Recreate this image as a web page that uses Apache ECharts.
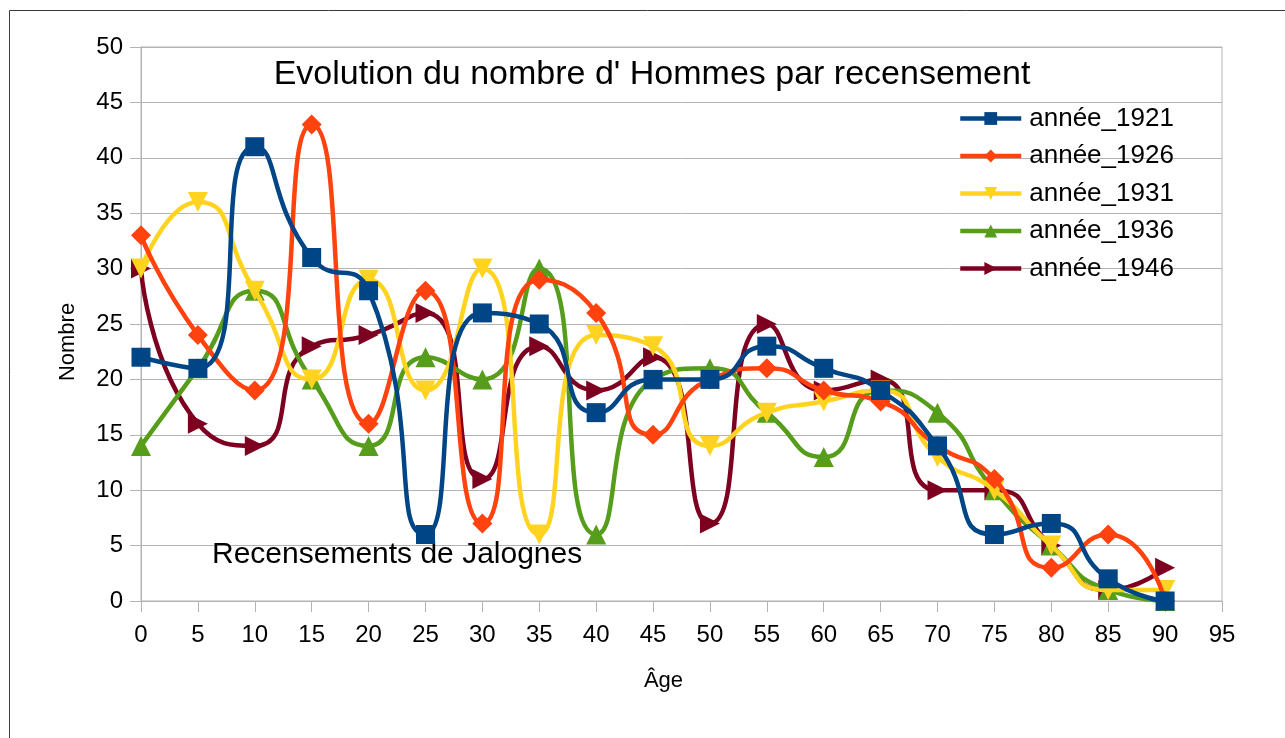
<!DOCTYPE html>
<html>
<head>
<meta charset="utf-8">
<script src="https://cdn.jsdelivr.net/npm/echarts@6/dist/echarts.min.js"></script>
<style>
html, body { margin: 0; padding: 0; background: #fff; }
#main { width: 1285px; height: 738px; }
</style>
</head>
<body>
<div id="main"></div>
<script>
// données
var ages = [0, 5, 10, 15, 20, 25, 30, 35, 40, 45, 50, 55, 60, 65, 70, 75, 80, 85, 90];
var annee1921 = [22, 21, 41, 31, 28, 6, 26, 25, 17, 20, 20, 23, 21, 19, 14, 6, 7, 2, 0];
var annee1926 = [33, 24, 19, 43, 16, 28, 7, 29, 26, 15, 20, 21, 19, 18, 14, 11, 3, 6, 0];
var annee1931 = [30, 36, 28, 20, 29, 19, 30, 6, 24, 23, 14, 17, 18, 19, 13, 10, 5, 1, 1];
var annee1936 = [14, 21, 28, 20, 14, 22, 20, 30, 6, 20, 21, 17, 13, 19, 17, 10, 5, 1, 0];
var annee1946 = [30, 16, 14, 23, 24, 26, 11, 23, 19, 22, 7, 25, 19, 20, 10, 10, 5, 1, 3];
var noms = ['année_1921', 'année_1926', 'année_1931', 'année_1936', 'année_1946'];
var couleurs = ['#004586', '#ff420e', '#ffd320', '#579d1c', '#7e0021'];
var symboles = ['rect', 'diamond', 'triangle', 'triangle', 'triangle'];
var rotations = [0, 0, 180, 0, -90];
var tailles = [19, 20, 20, 20, 20];
var valeurs = [annee1921, annee1926, annee1931, annee1936, annee1946];

var myChart = echarts.init(document.getElementById('main'));

var series = [];
for (var k = 0; k < noms.length; k++) {
    var pts = [];
    for (var i = 0; i < ages.length; i++) {
        pts.push([ages[i], valeurs[k][i]]);
    }
    series.push({
        name: noms[k],
        type: 'line',
        data: pts,
        smooth: 0.6,
        z: 10 - k,
        symbol: symboles[k],
        symbolRotate: rotations[k],
        symbolSize: tailles[k],
        showAllSymbol: true,
        itemStyle: { color: couleurs[k] },
        lineStyle: { color: couleurs[k], width: 4.5 }
    });
}

var option = {
    animation: false,
    backgroundColor: '#fff',
    textStyle: { fontFamily: 'Liberation Sans', color: '#000' },
    title: [{
        text: "Evolution du nombre d' Hommes par recensement",
        left: 652,
        textAlign: 'center',
        top: 58,
        padding: 0,
        textStyle: { fontSize: 34, fontWeight: 'normal', color: '#000', fontFamily: 'Liberation Sans' }
    }, {
        text: 'Recensements de Jalognes',
        left: 212,
        top: 540,
        padding: 0,
        textStyle: { fontSize: 30, fontWeight: 'normal', color: '#000', fontFamily: 'Liberation Sans' }
    }],
    // cadre
    graphic: [{
        type: 'rect',
        shape: { x: 9.5, y: 10.5, width: 1400, height: 900 },
        style: { fill: null, stroke: '#3c3c3c', lineWidth: 1 },
        silent: true
    }],
    legend: {
        orient: 'vertical',
        left: 958,
        top: 105,
        padding: 0,
        data: noms,
        itemWidth: 61,
        itemHeight: 16,
        itemGap: 10.5,
        lineStyle: { width: 4.5 },
        textStyle: { fontSize: 26, color: '#000', lineHeight: 27, fontFamily: 'Liberation Sans', padding: [0, 0, 0, 3] }
    },
    grid: {
        left: 141, right: 63, top: 47, bottom: 137,
        show: true, borderColor: '#b3b3b3', borderWidth: 1
    },
    xAxis: {
        type: 'value',
        min: 0, max: 95, interval: 5,
        name: 'Âge',
        nameLocation: 'middle',
        nameGap: 69,
        nameTextStyle: { fontSize: 22, color: '#000', padding: [0, 36, 0, 0] },
        axisLine: { show: true, lineStyle: { color: '#b3b3b3' } },
        axisTick: { show: true, length: 11, lineStyle: { color: '#b3b3b3' } },
        axisLabel: { fontSize: 24, color: '#000', margin: 22 },
        splitLine: { show: false }
    },
    yAxis: {
        type: 'value',
        min: 0, max: 50, interval: 5,
        name: 'Nombre',
        nameLocation: 'middle',
        nameGap: 62,
        nameTextStyle: { fontSize: 22, color: '#000', padding: [0, 36, 0, 0] },
        axisLine: { show: true, lineStyle: { color: '#b3b3b3' } },
        axisTick: { show: true, length: 11, lineStyle: { color: '#b3b3b3' } },
        axisLabel: { fontSize: 24, color: '#000', margin: 18 },
        splitLine: { show: true, lineStyle: { color: '#b3b3b3' } }
    },
    series: series
};

myChart.setOption(option);
</script>
</body>
</html>
